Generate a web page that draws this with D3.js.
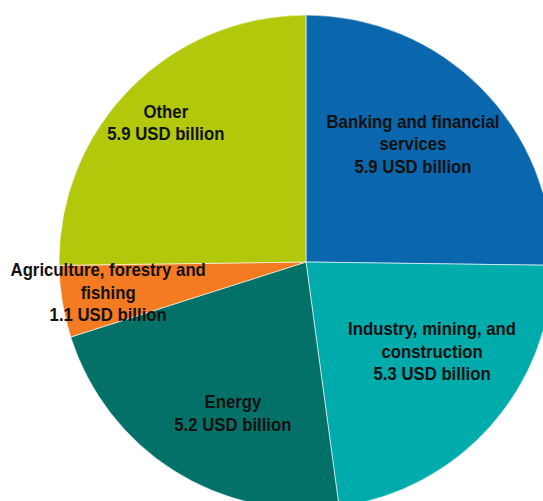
<!DOCTYPE html>
<html lang="en">
<head>
    <meta charset="UTF-8">
    <title>Pie by sector</title>
    <script src="https://d3js.org/d3.v7.min.js"></script>
    <style>
        body { margin: 0; background: #fff; }
        .label {
            font-family: "Liberation Sans", Arial, sans-serif;
            font-weight: bold;
            font-size: 18px;
            fill: #111;
            text-anchor: middle;
        }
    </style>
</head>
<body>
<div id="chart"></div>
<script>
    const width = 543;
    const height = 501;

    // data
    const sectors = ["Banking and financial services", "Industry, mining, and construction", "Energy", "Agriculture, forestry and fishing", "Other"];
    const values = [5.9, 5.3, 5.2, 1.1, 5.9];
    const labelLines = [
        ["Banking and financial", "services", "5.9 USD billion"],
        ["Industry, mining, and", "construction", "5.3 USD billion"],
        ["Energy", "5.2 USD billion"],
        ["Agriculture, forestry and", "fishing", "1.1 USD billion"],
        ["Other", "5.9 USD billion"]
    ];
    const colors = ["#0b67ad", "#00abac", "#047168", "#f47b22", "#b2c80b"];

    // layout (label radius as a share of the pie radius, angle nudge in degrees)
    const cx = 306, cy = 262, radius = 247;
    const labelRadius = [0.645, 0.625, 0.68, 0.81, 0.80];
    const labelTurn = [-3.2, -6.3, -6.5, 0.6, 0.2];
    const lineH = 22.5;

    const svg = d3.select("#chart").append("svg")
        .attr("width", width)
        .attr("height", height);
    const g = svg.append("g").attr("transform", `translate(${cx},${cy})`);

    const pie = d3.pie().sort(null).value(d => d);
    const arcs = pie(values);
    const arc = d3.arc().innerRadius(0).outerRadius(radius);

    g.selectAll("path.slice")
        .data(arcs)
        .enter()
        .append("path")
        .attr("class", "slice")
        .attr("d", arc)
        .attr("fill", (d, i) => colors[i])
        .attr("stroke", "#ffffff")
        .attr("stroke-width", 0.6);

    const labels = g.selectAll("text.label")
        .data(arcs)
        .enter()
        .append("text")
        .attr("class", "label")
        .attr("transform", (d, i) => {
            const r = radius * labelRadius[i];
            const a = (d.startAngle + d.endAngle) / 2 + labelTurn[i] * Math.PI / 180;
            const x = r * Math.sin(a);
            const y = -r * Math.cos(a);
            return `translate(${x},${y}) scale(0.93,1)`;
        });

    labels.each(function(d, i) {
        const lines = labelLines[i];
        const t = d3.select(this);
        lines.forEach((s, j) => {
            t.append("tspan")
                .attr("x", 0)
                .attr("y", (j - (lines.length - 1) / 2) * lineH + 6.5)
                .text(s);
        });
    });
</script>
</body>
</html>
